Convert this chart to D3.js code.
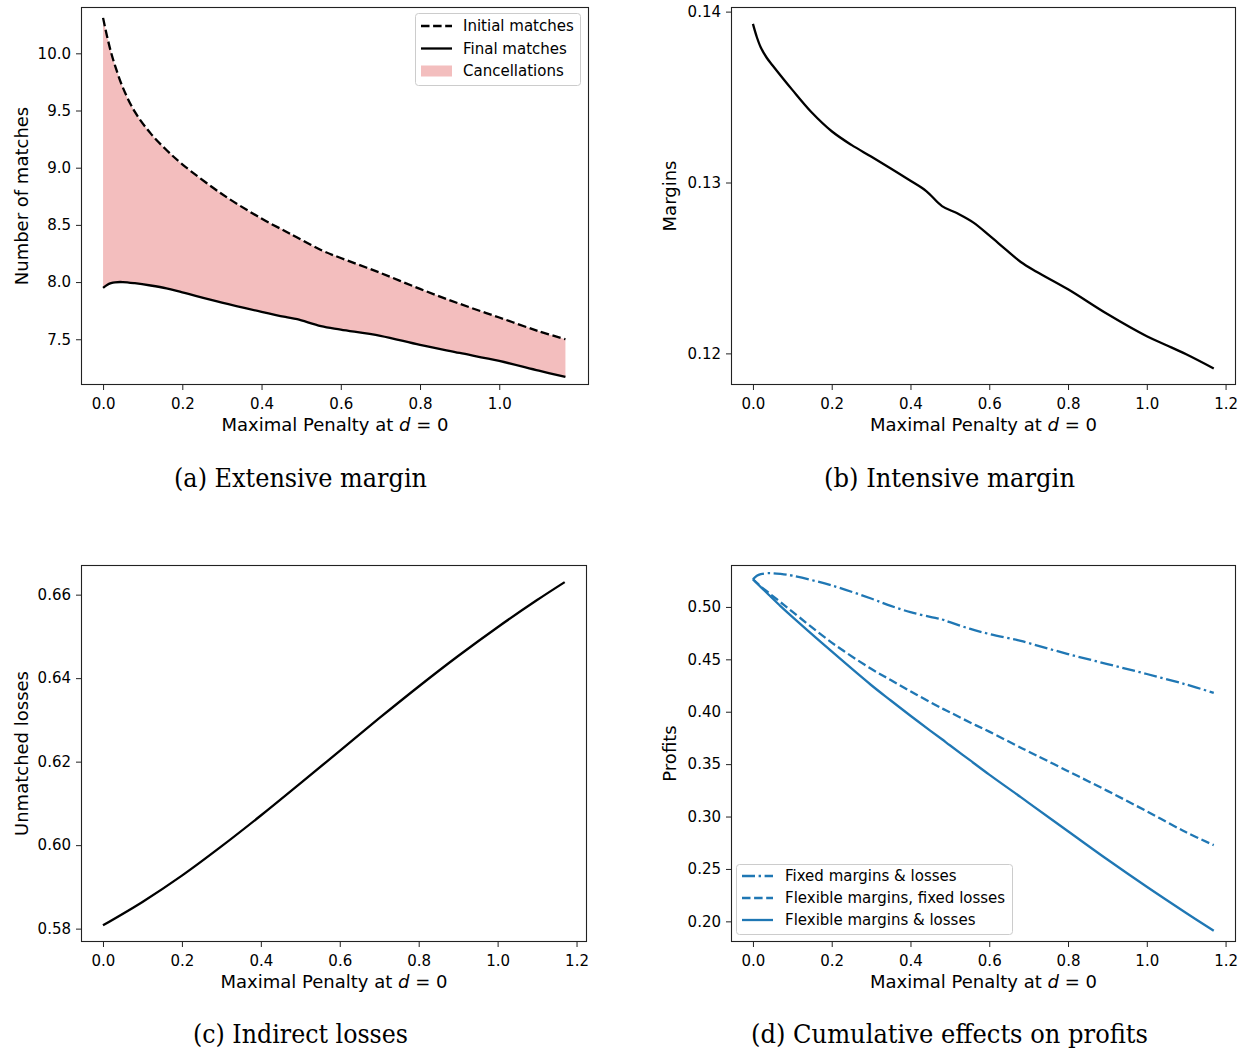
<!DOCTYPE html>
<html>
<head>
<meta charset="utf-8">
<script src="https://cdn.jsdelivr.net/npm/d3@7"></script>
<style>
  body { margin: 0; background: #fff; }
  svg { display: block; }
  text { font-family: "DejaVu Sans", sans-serif; fill: #000; }
  .caption { font-family: "DejaVu Serif", serif; }
</style>
</head>
<body>
<svg id="chart" width="1246" height="1049"></svg>
<script>
// ---------- DATA ----------
const xTicksShort = [0.0, 0.2, 0.4, 0.6, 0.8, 1.0];
const xTicksLong = [0.0, 0.2, 0.4, 0.6, 0.8, 1.0, 1.2];

// (a) Extensive margin
const xMatches = [0, 0.01, 0.02, 0.03, 0.05, 0.08, 0.12, 0.16, 0.2, 0.3, 0.4, 0.46, 0.49, 0.55, 0.6, 0.7, 0.8, 0.9, 1.0, 1.1, 1.167];
const initialMatches = [10.31, 10.15, 10.01, 9.895, 9.70, 9.49, 9.30, 9.155, 9.03, 8.77, 8.555, 8.445, 8.39, 8.28, 8.21, 8.08, 7.94, 7.81, 7.69, 7.57, 7.50];
const finalMatches = [7.95, 7.975, 7.99, 7.998, 8.0, 7.99, 7.97, 7.945, 7.91, 7.82, 7.74, 7.695, 7.675, 7.615, 7.585, 7.53, 7.45, 7.38, 7.31, 7.225, 7.17];
const yTicksMatches = [7.5, 8.0, 8.5, 9.0, 9.5, 10.0];
const legendMatches = ["Initial matches", "Final matches", "Cancellations"];

// (b) Intensive margin
const xMargins = [0, 0.01, 0.02, 0.035, 0.05, 0.1, 0.15, 0.2, 0.25, 0.3, 0.35, 0.4, 0.44, 0.48, 0.52, 0.56, 0.6, 0.64, 0.68, 0.72, 0.8, 0.9, 1.0, 1.05, 1.1, 1.17];
const margins = [0.13928, 0.13850, 0.13790, 0.13730, 0.13685, 0.13542, 0.13408, 0.13300, 0.13220, 0.13152, 0.13082, 0.13010, 0.12950, 0.12862, 0.12818, 0.12765, 0.12690, 0.12612, 0.12535, 0.12478, 0.12375, 0.12230, 0.12100, 0.12048, 0.11995, 0.11912];
const yTicksMargins = [0.12, 0.13, 0.14];

// (c) Indirect losses
const xLosses = [0, 0.1, 0.2, 0.3, 0.4, 0.5, 0.6, 0.7, 0.8, 0.9, 1.0, 1.1, 1.17];
const losses = [0.5808, 0.5864, 0.5927, 0.5997, 0.6071, 0.6148, 0.6226, 0.6304, 0.6380, 0.6453, 0.6522, 0.6587, 0.6630];
const yTicksLosses = [0.58, 0.60, 0.62, 0.64, 0.66];

// (d) Cumulative effects on profits
const xProfits = [0, 0.01, 0.02, 0.04, 0.07, 0.1, 0.2, 0.3, 0.35, 0.4, 0.45, 0.48, 0.5, 0.55, 0.6, 0.68, 0.7, 0.8, 0.9, 1.0, 1.1, 1.17];
const profitsFixed = [0.5264, 0.5298, 0.5313, 0.5322, 0.5315, 0.5298, 0.5205, 0.5080, 0.5010, 0.4950, 0.4905, 0.4880, 0.4855, 0.4792, 0.4742, 0.4676, 0.4655, 0.4550, 0.4455, 0.4360, 0.4260, 0.4180];
const profitsFlexMargins = [0.5264, 0.5230, 0.5195, 0.5135, 0.5045, 0.4955, 0.4660, 0.4410, 0.4303, 0.4195, 0.4092, 0.4032, 0.3995, 0.3900, 0.3810, 0.3657, 0.3620, 0.3433, 0.3245, 0.3050, 0.2850, 0.2727];
const profitsFlexBoth = [0.5264, 0.5226, 0.5189, 0.5116, 0.5008, 0.4905, 0.4575, 0.4255, 0.4107, 0.3962, 0.3820, 0.3737, 0.3680, 0.3540, 0.3400, 0.3185, 0.3130, 0.2860, 0.2590, 0.2330, 0.2080, 0.1910];
const yTicksProfits = [0.20, 0.25, 0.30, 0.35, 0.40, 0.45, 0.50];
const legendProfits = ["Fixed margins & losses", "Flexible margins, fixed losses", "Flexible margins & losses"];

const captions = ["(a) Extensive margin", "(b) Intensive margin", "(c) Indirect losses", "(d) Cumulative effects on profits"];
const xLabelText = "Maximal Penalty at ";

// ---------- DRAWING ----------
const svg = d3.select("#chart");
const BLUE = "#1f77b4";
const DASH = "8.5,3.6";
const DASHDOT = "13,3.6,2.4,3.6";
const xDomain = [-0.0557, 1.2265];
const CURVE = d3.curveCatmullRom.alpha(0.5);

function panel(o) {
  const x = d3.scaleLinear().domain(xDomain).range([o.left, o.right]);
  const y = d3.scaleLinear().domain(o.yDomain).range([o.bottom, o.top]);
  const g = svg.append("g");

  const xa = g.append("g").attr("transform", `translate(0,${o.bottom})`)
    .call(d3.axisBottom(x).tickValues(o.xTicks).tickFormat(d3.format(".1f")).tickSize(5).tickPadding(8));
  const ya = g.append("g").attr("transform", `translate(${o.left},0)`)
    .call(d3.axisLeft(y).tickValues(o.yTicks).tickFormat(d3.format(o.yFmt)).tickSize(5).tickPadding(5));
  [xa, ya].forEach(a => {
    a.select(".domain").remove();
    a.selectAll("line").attr("stroke", "#222").attr("stroke-width", 1);
    a.selectAll("text").style("font-size", "15px").style("font-family", "DejaVu Sans").attr("fill", "#000");
  });

  const xl = g.append("text").attr("x", (o.left + o.right) / 2).attr("y", o.bottom + 46)
    .attr("text-anchor", "middle").style("font-size", "18px");
  xl.append("tspan").text(xLabelText);
  xl.append("tspan").style("font-style", "italic").text("d");
  xl.append("tspan").text(" = 0");

  g.append("text").attr("transform", `translate(${o.ylx},${(o.top + o.bottom) / 2}) rotate(-90)`)
    .attr("text-anchor", "middle").style("font-size", "18px").text(o.ylabel);

  svg.append("text").attr("class", "caption").attr("x", o.capX).attr("y", o.capY)
    .attr("text-anchor", "middle").style("font-size", "26px")
    .attr("textLength", o.capLen).attr("lengthAdjust", "spacingAndGlyphs").text(o.caption);

  return { g, x, y, o };
}

function frame(p) {
  const o = p.o;
  p.g.append("rect").attr("x", o.left + 0.5).attr("y", o.top + 0.5)
    .attr("width", o.right - o.left - 1).attr("height", o.bottom - o.top - 1)
    .attr("fill", "none").attr("stroke", "#222").attr("stroke-width", 1.1);
}

function lineFor(p, xs) {
  return d3.line().x((d, i) => p.x(xs[i])).y(d => p.y(d)).curve(CURVE);
}

// ---- Panel (a)
const pa = panel({ left: 81, right: 589, top: 7, bottom: 385, yDomain: [7.10, 10.405],
  xTicks: xTicksShort, yTicks: yTicksMatches, yFmt: ".1f", ylabel: "Number of matches", ylx: 28,
  caption: captions[0], capX: 300.5, capY: 487, capLen: 253 });
const area = d3.area().x((d, i) => pa.x(xMatches[i])).y0((d, i) => pa.y(finalMatches[i])).y1(d => pa.y(d)).curve(CURVE);
pa.g.append("path").datum(initialMatches).attr("d", area).attr("fill", "#f3bebe");
pa.g.append("path").datum(initialMatches).attr("d", lineFor(pa, xMatches))
  .attr("fill", "none").attr("stroke", "#000").attr("stroke-width", 2.3).attr("stroke-dasharray", DASH);
pa.g.append("path").datum(finalMatches).attr("d", lineFor(pa, xMatches))
  .attr("fill", "none").attr("stroke", "#000").attr("stroke-width", 2.3);
frame(pa);
{
  const lg = pa.g.append("g");
  lg.append("rect").attr("x", 415.5).attr("y", 13.5).attr("width", 165).attr("height", 72).attr("rx", 3)
    .attr("fill", "#fff").attr("fill-opacity", 0.8).attr("stroke", "#ccc");
  const rows = [26, 48.5, 71];
  lg.append("line").attr("x1", 421).attr("x2", 452).attr("y1", rows[0]).attr("y2", rows[0])
    .attr("stroke", "#000").attr("stroke-width", 2.3).attr("stroke-dasharray", DASH);
  lg.append("line").attr("x1", 421).attr("x2", 452).attr("y1", rows[1]).attr("y2", rows[1])
    .attr("stroke", "#000").attr("stroke-width", 2.3);
  lg.append("rect").attr("x", 421).attr("y", rows[2] - 5.5).attr("width", 31).attr("height", 11).attr("fill", "#f3bebe");
  legendMatches.forEach((t, i) => lg.append("text").attr("x", 463).attr("y", rows[i] + 5.3).style("font-size", "15px").text(t));
}

// ---- Panel (b)
const pb = panel({ left: 731, right: 1236, top: 7, bottom: 385, yDomain: [0.11815, 0.14027],
  xTicks: xTicksLong, yTicks: yTicksMargins, yFmt: ".2f", ylabel: "Margins", ylx: 676,
  caption: captions[1], capX: 949.5, capY: 487, capLen: 251 });
pb.g.append("path").datum(margins).attr("d", lineFor(pb, xMargins))
  .attr("fill", "none").attr("stroke", "#000").attr("stroke-width", 2.3);
frame(pb);

// ---- Panel (c)
const pc = panel({ left: 81, right: 587, top: 565, bottom: 942, yDomain: [0.5768, 0.6671],
  xTicks: xTicksLong, yTicks: yTicksLosses, yFmt: ".2f", ylabel: "Unmatched losses", ylx: 28,
  caption: captions[2], capX: 300.5, capY: 1043, capLen: 215 });
pc.g.append("path").datum(losses).attr("d", lineFor(pc, xLosses))
  .attr("fill", "none").attr("stroke", "#000").attr("stroke-width", 2.3);
frame(pc);

// ---- Panel (d)
const pd = panel({ left: 731, right: 1236, top: 565, bottom: 942, yDomain: [0.1803, 0.5400],
  xTicks: xTicksLong, yTicks: yTicksProfits, yFmt: ".2f", ylabel: "Profits", ylx: 676,
  caption: captions[3], capX: 949.5, capY: 1043, capLen: 397 });
const profitSeries = [
  { v: profitsFixed, dash: DASHDOT },
  { v: profitsFlexMargins, dash: DASH },
  { v: profitsFlexBoth, dash: null }
];
profitSeries.forEach(s => {
  pd.g.append("path").datum(s.v).attr("d", lineFor(pd, xProfits))
    .attr("fill", "none").attr("stroke", BLUE).attr("stroke-width", 2.3)
    .attr("stroke-dasharray", s.dash);
});
frame(pd);
{
  const lg = pd.g.append("g");
  lg.append("rect").attr("x", 736.5).attr("y", 864.5).attr("width", 276).attr("height", 70).attr("rx", 3)
    .attr("fill", "#fff").attr("fill-opacity", 0.8).attr("stroke", "#ccc");
  const rows = [876, 898, 920];
  profitSeries.forEach((s, i) => {
    lg.append("line").attr("x1", 742).attr("x2", 773).attr("y1", rows[i]).attr("y2", rows[i])
      .attr("stroke", BLUE).attr("stroke-width", 2.3).attr("stroke-dasharray", s.dash);
    lg.append("text").attr("x", 785).attr("y", rows[i] + 5.3).style("font-size", "15px").text(legendProfits[i]);
  });
}
</script>
</body>
</html>
